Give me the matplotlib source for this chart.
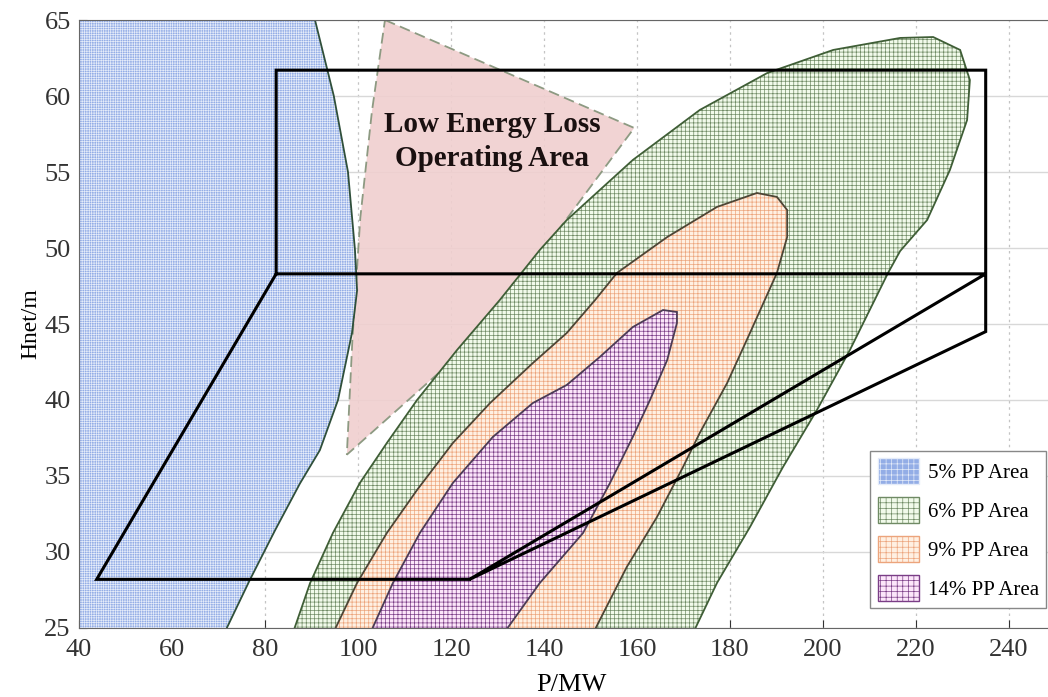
import matplotlib
matplotlib.use("Agg")
import matplotlib.pyplot as plt
from matplotlib.patches import Patch

plt.rcParams['font.family'] = ['Liberation Serif', 'DejaVu Serif']
plt.rcParams['hatch.linewidth'] = 0.5

# boundary of the 5% PP area (filled to the left edge)
pp5_x = [40, 90.75, 94.8, 97.85, 99.35, 99.8, 98.7, 95.7, 91.8, 87.5, 82.2, 76.8, 71.0, 40]
pp5_y = [65, 65, 60.0, 55.0, 49.87, 47.2, 44.4, 40.0, 36.7, 34.5, 31.45, 28.2, 24.5, 24.5]

# 6% PP area
pp6_x = [85.8, 89.7, 94.6, 100.4, 106.2, 112.7, 121.3, 130.5, 139.1, 144.9, 159.1, 173.5,
         188.0, 202.2, 216.6, 223.7, 229.5, 231.6, 231.0, 227.3, 222.4, 216.6, 214.0,
         205.8, 198.7, 191.4, 184.3, 177.2, 171.8]
pp6_y = [24.5, 27.96, 31.25, 34.54, 37.17, 40.0, 43.29, 46.58, 49.87, 51.84, 55.79, 59.08,
         61.51, 63.03, 63.82, 63.88, 63.03, 61.05, 58.42, 55.13, 51.84, 49.8, 48.36,
         43.29, 39.34, 35.59, 31.64, 27.96, 24.5]

# 9% PP area
pp9_x = [94.4, 99.8, 106.2, 112.7, 120.4, 128.4, 137.6, 144.9, 151.0, 155.7, 166.5, 177.2,
         185.8, 190.1, 192.3, 192.3, 190.1, 184.3, 179.4, 173.5, 169.9, 164.3, 157.8, 150.3]
pp9_y = [24.5, 27.96, 31.25, 34.08, 37.17, 39.8, 42.43, 44.41, 46.58, 48.36, 50.72, 52.7,
         53.62, 53.36, 52.5, 50.72, 48.36, 44.41, 41.12, 37.83, 35.59, 32.3, 29.01, 24.5]

# 14% PP area
pp14_x = [102.4, 107.5, 113.3, 120.4, 129.0, 137.6, 144.9, 152.0, 159.1, 165.6, 168.6,
          168.6, 166.5, 162.8, 159.1, 154.2, 148.4, 139.1, 131.0]
pp14_y = [24.5, 27.96, 31.25, 34.54, 37.57, 39.8, 40.99, 42.83, 44.8, 45.92, 45.79,
          45.07, 42.63, 40.0, 37.57, 34.54, 31.25, 27.96, 24.5]

# low energy loss operating area (triangle)
low_x = [105.8, 159.4, 140.0, 120.0, 97.6, 98.8, 100.5, 103.0]
low_y = [65.0, 57.9, 49.9, 42.5, 36.4, 44.0, 52.0, 59.0]

# operating range outline
op_x = [82.4, 82.4, 235, 235, 124.0, 235, 82.4, 43.8, 124.0]
op_y = [48.3, 61.7, 61.7, 44.5, 28.2, 48.3, 48.3, 28.2, 28.2]

xticks = [40, 60, 80, 100, 120, 140, 160, 180, 200, 220, 240]
yticks = [25, 30, 35, 40, 45, 50, 55, 60, 65]

fig = plt.figure(figsize=(10.48, 6.97), dpi=100)
ax = fig.add_axes([0.0754, 0.099, 0.9246, 0.8723])

ax.grid(True, axis='y', color='#d8d8d8', linestyle='-', linewidth=1.0)
ax.grid(True, axis='x', color='#c4c4c4', linestyle=(0, (2, 3)), linewidth=0.9)
ax.set_axisbelow(True)

areas = [
    (pp5_x, pp5_y, '#93ade6', '#e4ebf9', '+++++++', '#2f4f3a', '5% PP Area'),
    (pp6_x, pp6_y, '#f1faea', '#6f8a64', '++++', '#3f5e36', '6% PP Area'),
    (pp9_x, pp9_y, '#fff0e2', '#eca47c', '++++', '#4d4535', '9% PP Area'),
    (pp14_x, pp14_y, '#fce6fa', '#7a3d86', '++++', '#4b3b55', '14% PP Area'),
]

ax.fill(low_x, low_y, facecolor='#f0cfcf', edgecolor='none', alpha=0.9, zorder=1)
ax.fill(low_x, low_y, fill=False, edgecolor='#8d9a82', linewidth=1.3,
        linestyle=(0, (6, 3)), zorder=1.5)

handles = []
for xs, ys, face, hcol, hatch, line, lab in areas:
    ax.fill(xs, ys, facecolor=face, edgecolor=hcol, hatch=hatch, linewidth=0, zorder=2)
    ax.fill(xs, ys, fill=False, edgecolor=line, linewidth=1.3, zorder=2.5)
    handles.append(Patch(facecolor=face, edgecolor=hcol, hatch=hatch[:3], label=lab))

ax.plot(op_x, op_y, color='black', linewidth=2.2, solid_joinstyle='miter', zorder=4)

ax.text(128.8, 57.0, 'Low Energy Loss\nOperating Area', fontsize=21, fontweight='bold',
        ha='center', va='center', linespacing=1.35, color='#1a1010', zorder=5)

ax.set_xlim(40, 248.4)
ax.set_ylim(25, 65)
ax.set_xticks(xticks)
ax.set_yticks(yticks)
ax.tick_params(direction='in', length=6, labelsize=19, colors='#333333', pad=6)
ax.tick_params(axis='x', pad=8)
for s in ['left', 'bottom', 'top']:
    ax.spines[s].set_color('#666666')
ax.spines['right'].set_visible(False)

ax.set_xlabel('P/MW', fontsize=19, va='center')
ax.xaxis.set_label_coords(0.508, -0.093)
ax.set_ylabel('Hnet/m', fontsize=17, labelpad=2)

leg = ax.legend(handles=handles, loc='lower right', bbox_to_anchor=(0.998, 0.033),
                fontsize=15, handlelength=2.0, handleheight=1.5, labelspacing=0.65,
                handletextpad=0.4, borderpad=0.35, fancybox=False, framealpha=1,
                edgecolor='#888888', borderaxespad=0)
leg.get_frame().set_linewidth(1.0)
leg.set_zorder(6)

fig.savefig('out.png', dpi=100)
